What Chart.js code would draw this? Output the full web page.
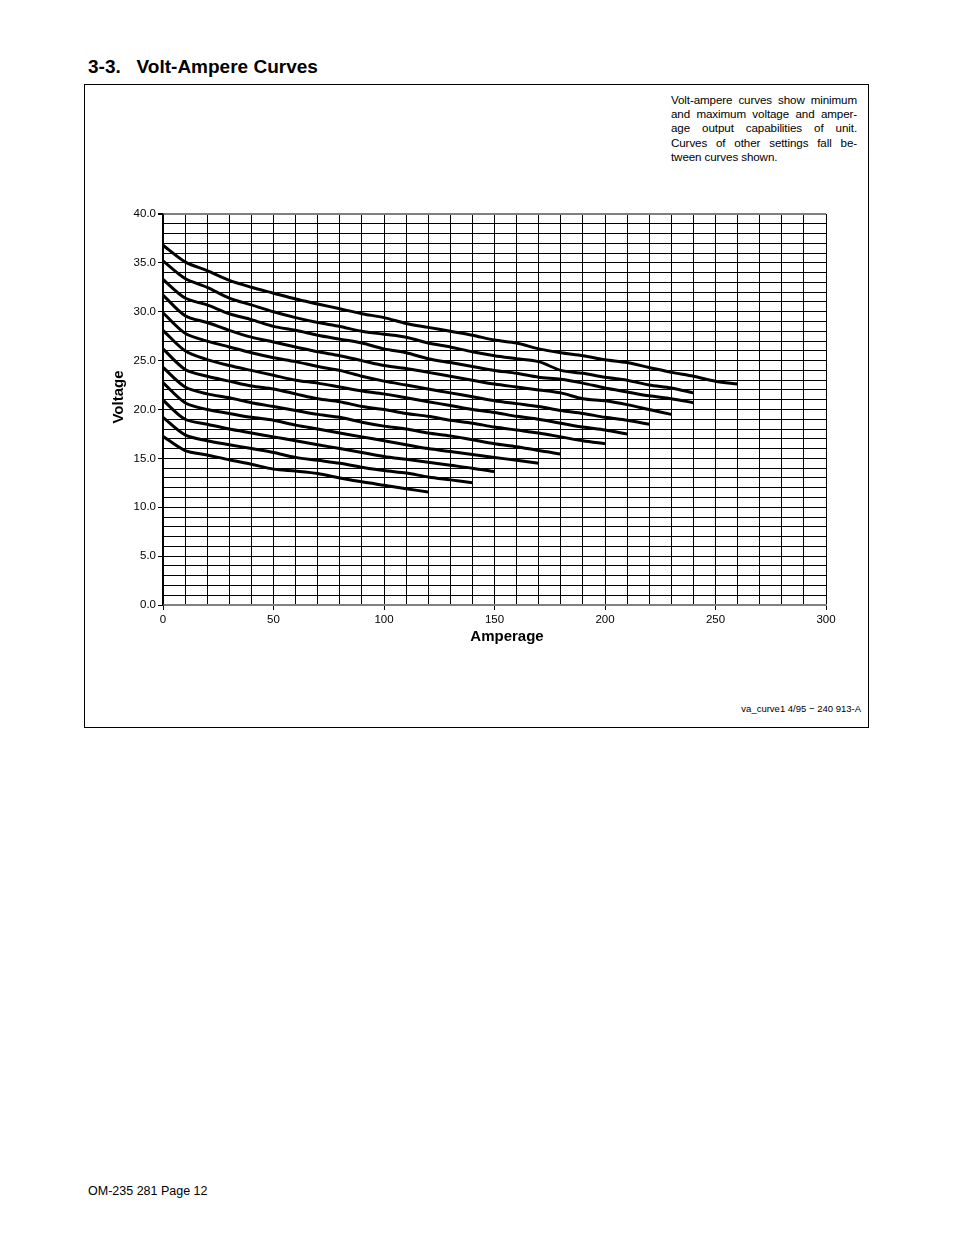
<!DOCTYPE html>
<html>
<head>
<meta charset="utf-8">
<script src="https://cdn.jsdelivr.net/npm/chart.js@4.4.1/dist/chart.umd.min.js"></script>
<style>
  body { margin: 0; background: #fff; font-family: "Liberation Sans", Arial, Helvetica, sans-serif; color: #000; }
  .page { position: relative; width: 954px; height: 1235px; }
  .heading { position: absolute; left: 88px; top: 55px; font-size: 19px; font-weight: bold; line-height: 23px; white-space: pre; }
  .box { position: absolute; left: 84px; top: 84px; width: 783px; height: 642px; border: 1px solid #000; }
  .note { position: absolute; left: 671px; top: 93px; width: 186px; font-size: 11.6px; line-height: 14.2px; letter-spacing: -0.1px; }
  .note div { text-align: justify; text-align-last: justify; white-space: nowrap; }
  .note div.last { text-align-last: left; }
  .code { position: absolute; right: 93px; top: 703px; font-size: 9.5px; }
  .foot { position: absolute; left: 88px; top: 1184px; font-size: 12.5px; }
  #va { position: absolute; left: 84px; top: 190px; }
</style>
</head>
<body>
<div class="page">
  <div class="heading">3-3.   Volt-Ampere Curves</div>
  <div class="box"></div>
  <div class="note">
    <div>Volt-ampere curves show minimum</div>
    <div>and maximum voltage and amper-</div>
    <div>age output capabilities of unit.</div>
    <div>Curves of other settings fall be-</div>
    <div class="last">tween curves shown.</div>
  </div>
  <canvas id="va" width="785" height="470"></canvas>
  <div class="code">va_curve1 4/95 − 240 913-A</div>
  <div class="foot">OM-235 281 Page 12</div>
</div>
<script>
// amperage steps (A), each curve uses the first N of them
var amps = [0, 10, 20, 30, 40, 50, 60, 70, 80, 90, 100, 110, 120, 130,
            140, 150, 160, 170, 180, 190, 200, 210, 220, 230, 240, 250, 260];

// voltage, top to bottom
var volts1 = [36.8, 35.1, 34.2, 33.2, 32.5, 31.9, 31.3, 30.8, 30.3, 29.8, 29.4, 28.8, 28.4, 28.0,
              27.6, 27.1, 26.8, 26.2, 25.8, 25.5, 25.1, 24.8, 24.3, 23.8, 23.4, 22.9, 22.6];
var volts2 = [35.2, 33.4, 32.5, 31.4, 30.7, 30.0, 29.4, 28.9, 28.5, 28.0, 27.7, 27.4, 26.8, 26.4,
              25.9, 25.5, 25.2, 24.9, 24.0, 23.7, 23.3, 23.0, 22.5, 22.2, 21.7];
var volts3 = [33.3, 31.4, 30.7, 29.8, 29.2, 28.5, 28.1, 27.6, 27.2, 26.8, 26.2, 25.8, 25.2, 24.8,
              24.4, 24.0, 23.7, 23.3, 23.1, 22.7, 22.2, 21.8, 21.4, 21.1, 20.7];
var volts4 = [31.7, 29.6, 28.9, 28.1, 27.4, 26.9, 26.4, 25.9, 25.5, 25.0, 24.5, 24.2, 23.8, 23.4,
              23.0, 22.6, 22.3, 22.0, 21.7, 21.1, 20.9, 20.5, 20.0, 19.5];
var volts5 = [29.9, 27.8, 27.0, 26.4, 25.8, 25.3, 24.9, 24.4, 24.0, 23.4, 22.9, 22.5, 22.1, 21.7,
              21.3, 20.9, 20.6, 20.3, 19.9, 19.6, 19.2, 18.9, 18.5];
var volts6 = [28.1, 26.0, 25.1, 24.5, 24.0, 23.5, 23.0, 22.7, 22.3, 21.9, 21.6, 21.2, 20.8, 20.4,
              20.0, 19.7, 19.3, 19.0, 18.6, 18.2, 17.9, 17.5];
var volts7 = [26.2, 24.1, 23.4, 22.9, 22.4, 22.1, 21.6, 21.1, 20.8, 20.3, 20.0, 19.6, 19.3, 18.9,
              18.6, 18.2, 17.9, 17.6, 17.2, 16.8, 16.5];
var volts8 = [24.3, 22.3, 21.6, 21.2, 20.7, 20.3, 19.9, 19.5, 19.2, 18.7, 18.3, 18.0, 17.6, 17.3,
              16.9, 16.5, 16.2, 15.8, 15.45];
var volts9 = [22.75, 20.7, 20.0, 19.6, 19.2, 18.9, 18.4, 18.0, 17.6, 17.2, 16.8, 16.4, 16.0, 15.7,
              15.4, 15.1, 14.8, 14.5];
var volts10 = [20.95, 19.0, 18.5, 18.0, 17.6, 17.2, 16.8, 16.4, 16.0, 15.6, 15.2, 14.9, 14.6, 14.3,
               14.0, 13.65];
var volts11 = [19.2, 17.4, 16.8, 16.4, 16.0, 15.6, 15.1, 14.8, 14.5, 14.1, 13.75, 13.5, 13.1, 12.8, 12.5];
var volts12 = [17.25, 15.8, 15.35, 14.85, 14.4, 13.9, 13.7, 13.45, 13.0, 12.6, 12.25, 11.9, 11.55];

var curves = [volts1, volts2, volts3, volts4, volts5, volts6,
              volts7, volts8, volts9, volts10, volts11, volts12];

var datasets = curves.map(function(v) {
  return {
    data: v.map(function(y, i) { return { x: amps[i], y: y }; }),
    borderColor: '#000',
    borderWidth: 3,
    pointRadius: 0,
    tension: 0.3,
    fill: false
  };
});

var tickFont = { family: '"Liberation Sans", Arial, sans-serif', size: 11.5 };
var titleFont = { family: '"Liberation Sans", Arial, sans-serif', size: 15, weight: 'bold' };

var ctx = document.getElementById('va').getContext('2d');
var vaChart = new Chart(ctx, {
  type: 'line',
  data: { datasets: datasets },
  options: {
    responsive: false,
    animation: false,
    layout: { padding: { left: 0, top: 24, right: 43, bottom: 0 } },
    plugins: { legend: { display: false }, tooltip: { enabled: false } },
    scales: {
      x: {
        type: 'linear',
        min: 0,
        max: 300,
        afterFit: function(s) { s.height = 55; },
        ticks: {
          stepSize: 10,
          autoSkip: false,
          maxRotation: 0,
          padding: 3,
          color: '#000',
          font: tickFont,
          callback: function(v) { return v % 50 === 0 ? String(v) : ''; }
        },
        grid: {
          color: '#000',
          lineWidth: 1,
          tickLength: 5,
          tickColor: function(c) { return c.tick && c.tick.value % 50 === 0 ? '#000' : 'rgba(0,0,0,0)'; }
        },
        border: { color: '#808080', width: 2 },
        // leading spaces nudge the title right of centre, as in the original
        title: { display: true, text: '      Amperage', color: '#000', font: titleFont, padding: { top: 0, bottom: 14 } }
      },
      y: {
        min: 0,
        max: 40,
        afterFit: function(s) { s.width = 79; },
        ticks: {
          stepSize: 1,
          autoSkip: false,
          padding: 2,
          color: '#000',
          font: tickFont,
          callback: function(v) { return v % 5 === 0 ? v.toFixed(1) : ''; }
        },
        grid: {
          color: function(c) { return c.tick && c.tick.value === 40 ? '#808080' : '#000'; },
          lineWidth: function(c) { return c.tick && c.tick.value === 40 ? 2 : 1; },
          tickLength: 5,
          tickColor: function(c) { return c.tick && c.tick.value % 5 === 0 ? '#000' : 'rgba(0,0,0,0)'; }
        },
        border: { color: '#000', width: 1.5 },
        title: { display: true, text: '      Voltage', color: '#000', font: titleFont, padding: { top: 26, bottom: 0 } }
      }
    }
  }
});
</script>
</body>
</html>
